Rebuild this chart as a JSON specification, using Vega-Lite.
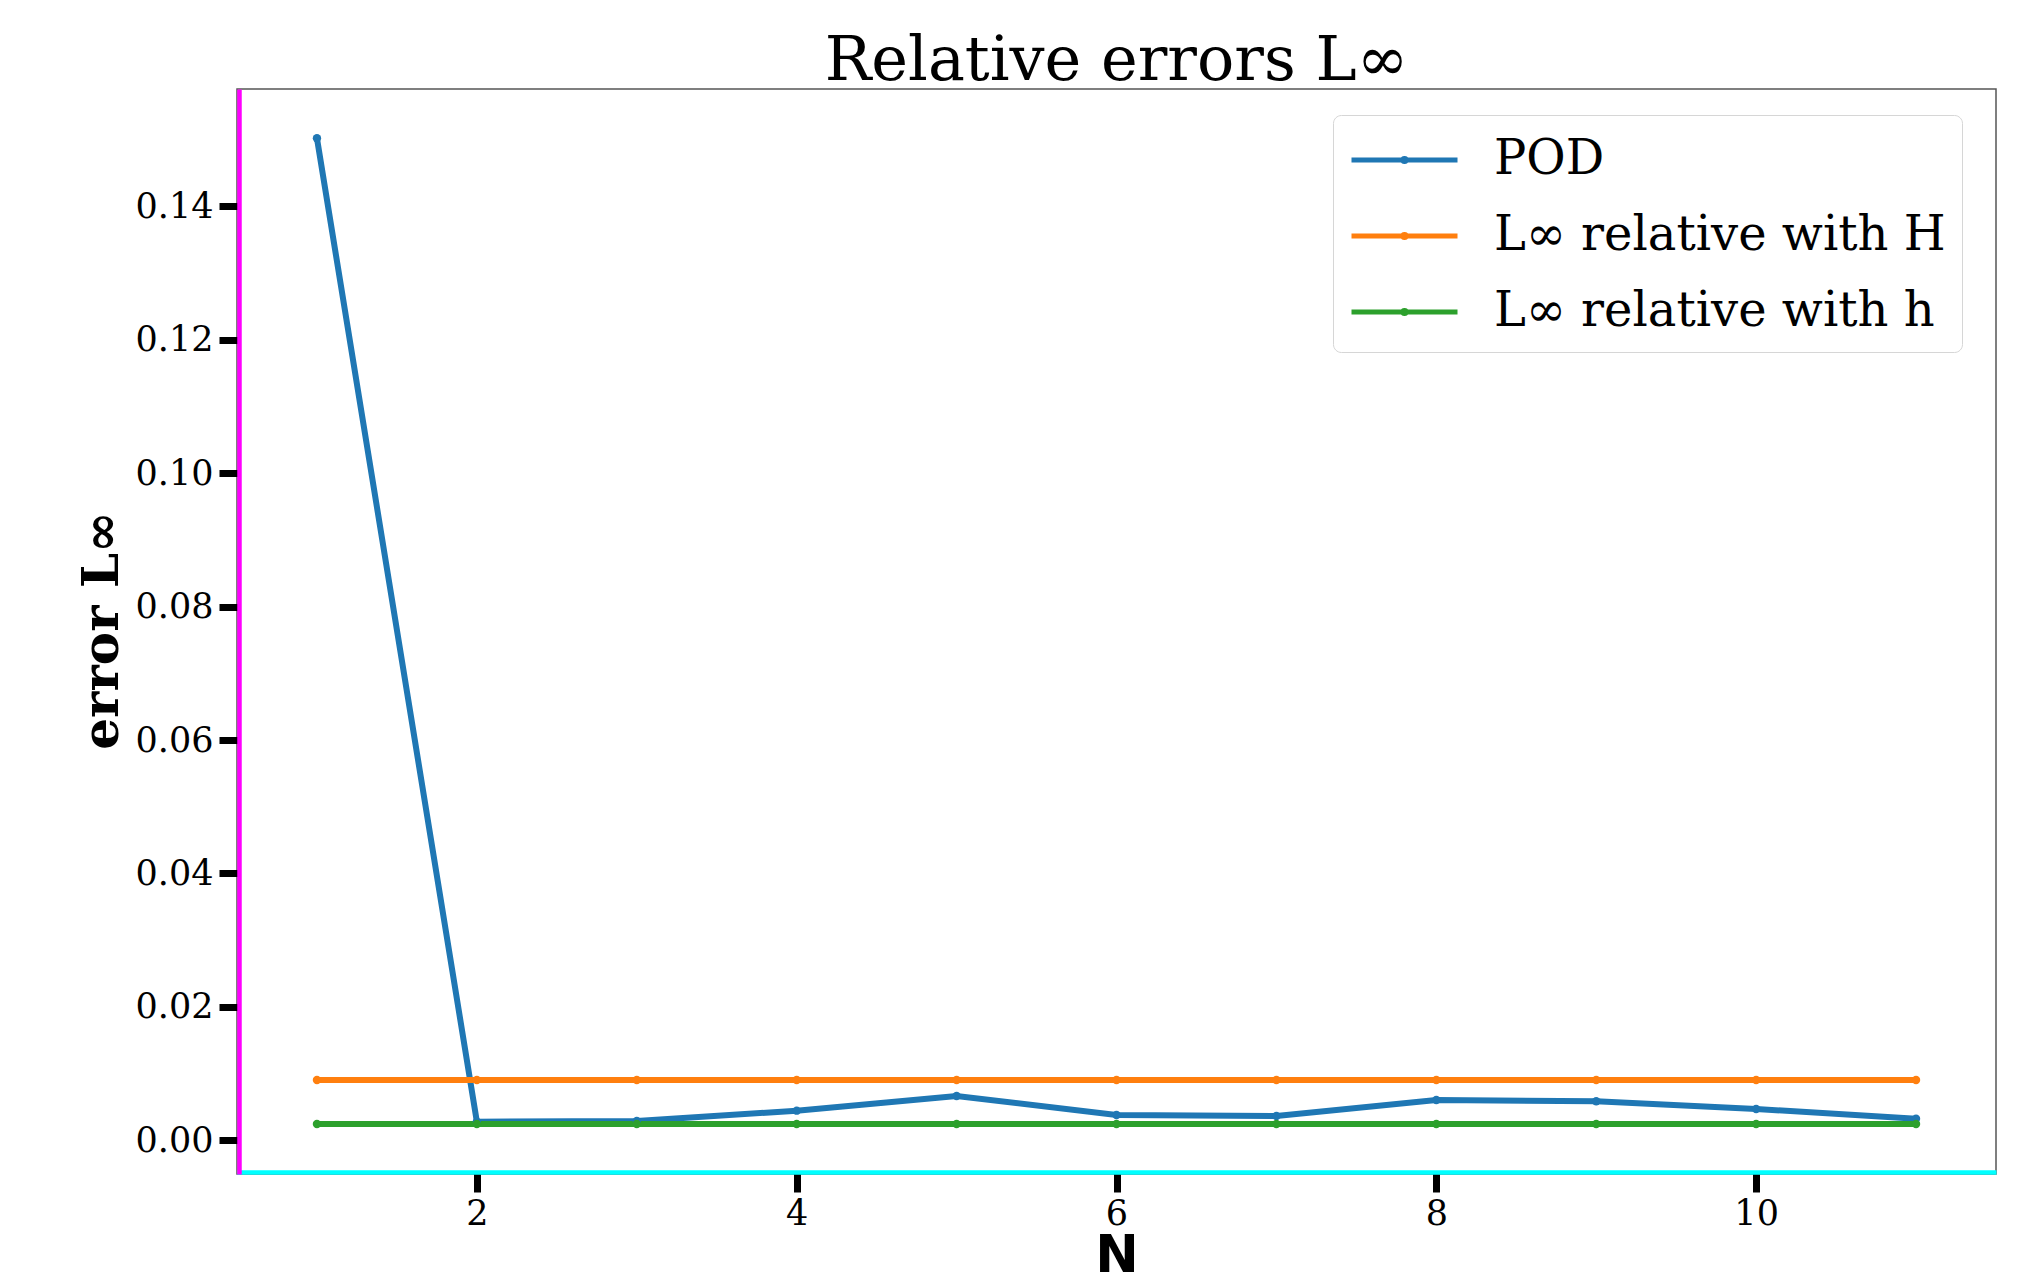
{
  "$schema": "https://vega.github.io/schema/vega-lite/v6.json",
  "width": 1759,
  "height": 1085,
  "autosize": {"type": "none"},
  "padding": {"left": 237, "top": 89, "right": 25, "bottom": 111},
  "background": "white",
  "title": {
    "text": "Relative errors L∞",
    "font": "DejaVu Serif",
    "fontSize": 62,
    "fontWeight": "normal",
    "color": "black",
    "anchor": "middle",
    "frame": "group",
    "baseline": "top",
    "offset": -4
  },
  "data": {
    "values": [
      {"N": 1, "error": 0.1502, "series": "POD"},
      {"N": 2, "error": 0.00279, "series": "POD"},
      {"N": 3, "error": 0.00289, "series": "POD"},
      {"N": 4, "error": 0.00444, "series": "POD"},
      {"N": 5, "error": 0.00664, "series": "POD"},
      {"N": 6, "error": 0.00379, "series": "POD"},
      {"N": 7, "error": 0.00364, "series": "POD"},
      {"N": 8, "error": 0.00604, "series": "POD"},
      {"N": 9, "error": 0.00585, "series": "POD"},
      {"N": 10, "error": 0.00469, "series": "POD"},
      {"N": 11, "error": 0.00324, "series": "POD"},
      {"N": 1, "error": 0.00904, "series": "L∞ relative with H"},
      {"N": 2, "error": 0.00904, "series": "L∞ relative with H"},
      {"N": 3, "error": 0.00904, "series": "L∞ relative with H"},
      {"N": 4, "error": 0.00904, "series": "L∞ relative with H"},
      {"N": 5, "error": 0.00904, "series": "L∞ relative with H"},
      {"N": 6, "error": 0.00904, "series": "L∞ relative with H"},
      {"N": 7, "error": 0.00904, "series": "L∞ relative with H"},
      {"N": 8, "error": 0.00904, "series": "L∞ relative with H"},
      {"N": 9, "error": 0.00904, "series": "L∞ relative with H"},
      {"N": 10, "error": 0.00904, "series": "L∞ relative with H"},
      {"N": 11, "error": 0.00904, "series": "L∞ relative with H"},
      {"N": 1, "error": 0.00244, "series": "L∞ relative with h"},
      {"N": 2, "error": 0.00244, "series": "L∞ relative with h"},
      {"N": 3, "error": 0.00244, "series": "L∞ relative with h"},
      {"N": 4, "error": 0.00244, "series": "L∞ relative with h"},
      {"N": 5, "error": 0.00244, "series": "L∞ relative with h"},
      {"N": 6, "error": 0.00244, "series": "L∞ relative with h"},
      {"N": 7, "error": 0.00244, "series": "L∞ relative with h"},
      {"N": 8, "error": 0.00244, "series": "L∞ relative with h"},
      {"N": 9, "error": 0.00244, "series": "L∞ relative with h"},
      {"N": 10, "error": 0.00244, "series": "L∞ relative with h"},
      {"N": 11, "error": 0.00244, "series": "L∞ relative with h"}
    ]
  },
  "mark": {"type": "line", "strokeWidth": 6, "point": {"filled": true, "size": 70}},
  "encoding": {
    "x": {
      "field": "N",
      "type": "quantitative",
      "scale": {"domain": [0.5, 11.5], "nice": false, "zero": false},
      "axis": {
        "values": [2, 4, 6, 8, 10],
        "format": "d",
        "title": "N",
        "titleFont": "DejaVu Sans",
        "titleFontWeight": "bold",
        "titleFontSize": 52,
        "titleColor": "black",
        "titleBaseline": "alphabetic",
        "titleY": 99,
        "labelFont": "DejaVu Serif",
        "labelFontSize": 35,
        "labelColor": "black",
        "labelPadding": 4,
        "tickSize": 20,
        "tickWidth": 7,
        "tickColor": "black",
        "domainColor": "#00ffff",
        "domainWidth": 4.5,
        "offset": -2,
        "grid": false
      }
    },
    "y": {
      "field": "error",
      "type": "quantitative",
      "scale": {"domain": [-0.00505, 0.15758], "nice": false, "zero": false},
      "axis": {
        "values": [0, 0.02, 0.04, 0.06, 0.08, 0.1, 0.12, 0.14],
        "format": ".2f",
        "title": "error L∞",
        "titleFont": "DejaVu Serif",
        "titleFontWeight": "bold",
        "titleFontSize": 50,
        "titleColor": "black",
        "titleAngle": 270,
        "titleBaseline": "alphabetic",
        "titleAlign": "center",
        "titleX": -122,
        "titleY": 541,
        "labelFont": "DejaVu Serif",
        "labelFontSize": 35,
        "labelColor": "black",
        "labelPadding": 6,
        "tickSize": 20,
        "tickWidth": 7,
        "tickColor": "black",
        "domainColor": "#ff00ff",
        "domainWidth": 4.5,
        "offset": -2,
        "grid": false
      }
    },
    "color": {
      "field": "series",
      "type": "nominal",
      "scale": {
        "domain": ["POD", "L∞ relative with H", "L∞ relative with h"],
        "range": ["#1f77b4", "#ff7f0e", "#2ca02c"]
      },
      "legend": {
        "orient": "none",
        "legendX": 1096,
        "legendY": 26,
        "title": null,
        "labelFont": "DejaVu Serif",
        "labelFontSize": 48,
        "labelColor": "black",
        "symbolType": "M-1,0H3M1.06,0A0.06,0.06,0,1,1,0.94,0A0.06,0.06,0,1,1,1.06,0Z",
        "symbolSize": 2809,
        "symbolStrokeWidth": 5,
        "strokeColor": "#d6d6d6",
        "fillColor": "white",
        "cornerRadius": 8,
        "padding": 16,
        "rowPadding": 23,
        "labelOffset": 87,
        "labelLimit": 0
      }
    }
  },
  "config": {
    "view": {"stroke": "#555555", "strokeWidth": 1.5},
    "axis": {"grid": false}
  }
}
